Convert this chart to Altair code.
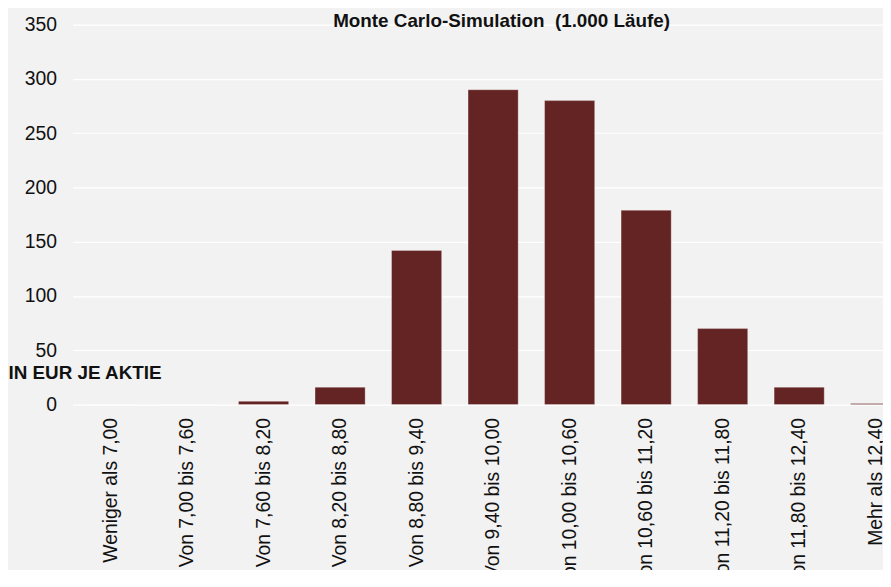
import altair as alt
import pandas as pd

categories = [
    "Weniger als 7,00", "Von 7,00 bis 7,60", "Von 7,60 bis 8,20", "Von 8,20 bis 8,80",
    "Von 8,80 bis 9,40", "Von 9,40 bis 10,00", "Von 10,00 bis 10,60", "Von 10,60 bis 11,20",
    "Von 11,20 bis 11,80", "Von 11,80 bis 12,40", "Mehr als 12,40",
]
counts = [0, 0, 3, 16, 142, 290, 280, 179, 70, 16, 1]
y_ticks = [0, 50, 100, 150, 200, 250, 300, 350]

df = pd.DataFrame({"Klasse": categories, "Anzahl": counts})
FONT = "Liberation Sans"

chart = (
    alt.Chart(df)
    .mark_bar(color="#632423", stroke="#ffffff", strokeWidth=0.5, strokeOpacity=0.6)
    .encode(
        x=alt.X(
            "Klasse:N",
            sort=categories,
            scale=alt.Scale(range=[0, 848], paddingInner=0.345, paddingOuter=0.17),
            axis=alt.Axis(
                title=None, labelAngle=-90, labelFontSize=19.5, labelFont=FONT,
                labelColor="#111111", ticks=False, domain=False, grid=False,
                labelPadding=13, labelLimit=400,
            ),
        ),
        y=alt.Y(
            "Anzahl:Q",
            scale=alt.Scale(domain=[0, 350], nice=False),
            axis=alt.Axis(
                values=y_ticks, title="IN EUR JE AKTIE", titleAngle=0,
                titleAlign="left", titleBaseline="alphabetic", titleX=-65, titleY=357,
                titleFontSize=19, titleFont=FONT, titleFontWeight="bold", titleColor="#111111",
                labelFontSize=19.5, labelFont=FONT, labelColor="#111111", ticks=False,
                domain=False, gridColor="#ffffff", gridWidth=1.2, labelPadding=16,
            ),
        ),
    )
    .properties(
        width=817,
        height=383,
        title=alt.TitleParams(
            text="Monte Carlo-Simulation\u00a0 (1.000 Läufe)", fontSize=19, font=FONT,
            fontWeight="bold", color="#111111", anchor="middle", dx=24, dy=20,
        ),
        autosize=alt.AutoSizeParams(type="none"),
        padding={"left": 65, "top": 14.5, "right": 0, "bottom": 164},
        background="#f2f2f2",
    )
    .configure_view(stroke=None, fill="#f2f2f2")
)

chart.save("out.html", embed_options={"renderer": "svg", "actions": False})
